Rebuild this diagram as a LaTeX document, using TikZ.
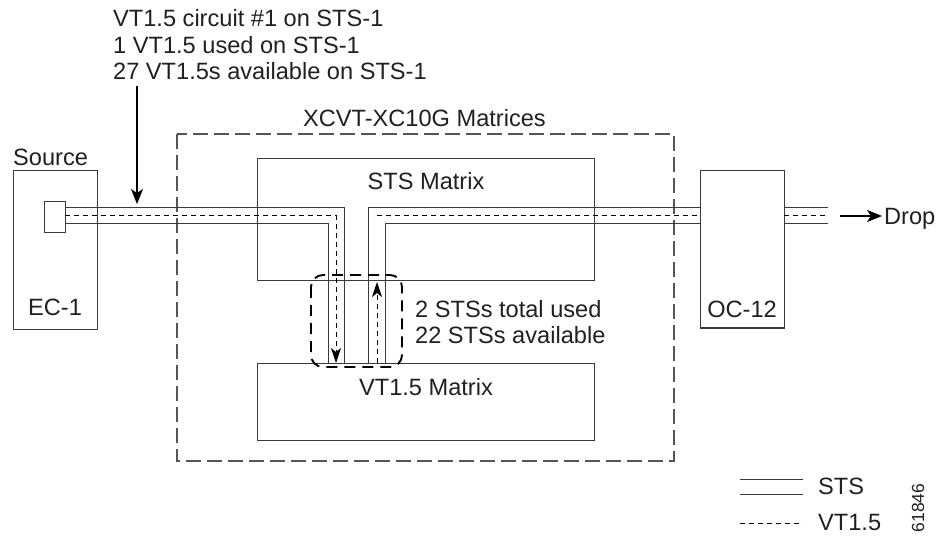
\documentclass[tikz,border=0pt]{standalone}
\usepackage{fontspec}
\setmainfont{Liberation Sans}
\usetikzlibrary{arrows.meta}
\definecolor{linec}{HTML}{3A3A3A}
\definecolor{txt}{HTML}{231F20}
\definecolor{xcgray}{HTML}{555555}
\begin{document}
\begin{tikzpicture}[x=1pt,y=-1pt,
  box/.style={draw=linec,line width=1pt,inner sep=0pt,outer sep=0pt},
  lbl/.style={inner sep=0pt,anchor=base west,font=\fontsize{23.6}{28}\selectfont,text=txt},
  clbl/.style={inner sep=0pt,anchor=base,font=\fontsize{23.6}{28}\selectfont,text=txt},
  sol/.style={draw=linec,line width=1pt},
  vtl/.style={draw=black,line width=1pt,dash pattern=on 5pt off 4pt},
  arr/.style={-{Stealth[length=15pt,width=12pt,inset=4pt]}},
  varr/.style={-{Stealth[length=15pt,width=10pt,inset=4pt]}},
  loopd/.style={draw=black,line width=1.9pt,dash pattern=on 11pt off 7pt,rounded corners=12pt},
  xcd/.style={draw=xcgray,line width=1.2pt,dash pattern=on 15pt off 6pt}]
\useasboundingbox (0,0) rectangle (937,537);
% boxes
\node[box,minimum width=84pt,minimum height=158pt] (ec1) at (55,250) {};
\node[box,minimum width=20.5pt,minimum height=31pt] (port) at (54.75,217.5) {};
\draw[xcd] (177,134) rectangle (674,461);
\node[box,minimum width=337pt,minimum height=122pt] (sts) at (425.5,220) {};
\node[box,minimum width=337pt,minimum height=77pt] (vt) at (425.5,401.5) {};
\node[box,minimum width=84pt,minimum height=157pt] (oc) at (742,249.5) {};
% coordinates of the channel
\coordinate (pA) at (65,208); \coordinate (pB) at (65,216); \coordinate (pC) at (65,224);
\coordinate (cA) at (344,208); \coordinate (cB) at (336,216); \coordinate (cC) at (328,224);
\coordinate (dA) at (344,363); \coordinate (dB) at (336,363); \coordinate (dC) at (328,363);
\coordinate (uA) at (368,363); \coordinate (uB) at (377,363); \coordinate (uC) at (385,363);
\coordinate (eA) at (368,208); \coordinate (eB) at (377,216); \coordinate (eC) at (385,224);
\coordinate (uT) at (377,282);
\coordinate (oA) at (700,208); \coordinate (oB) at (700,216); \coordinate (oC) at (700,224);
\coordinate (qA) at (784,208); \coordinate (qB) at (784,216); \coordinate (qC) at (784,224);
\coordinate (rA) at (828,208); \coordinate (rB) at (828,216); \coordinate (rC) at (828,224);
% channel: left part
\draw[sol] (pA) -- (cA) -- (dA);
\draw[sol] (pC) -- (cC) -- (dC);
\draw[vtl,varr] (pB) -- (cB) -- (dB);
% channel: right part
\draw[sol] (uA) -- (eA) -- (oA);
\draw[sol] (uC) -- (eC) -- (oC);
\draw[vtl] (eB) -- (oB);
\draw[vtl,varr] (uB) -- (uT);
% after OC-12
\draw[sol] (qA) -- (rA);
\draw[sol] (qC) -- (rC);
\draw[vtl] (qB) -- (rB);
% loop
\draw[loopd] (311,275) rectangle (402,367);
% labels
\node[lbl] (t1) at (113,27) {VT1.5 circuit \#1 on STS-1};
\node[lbl] (t2) at (113,53.5) {1 VT1.5 used on STS-1};
\node[lbl] (t3) at (113,80) {27 VT1.5s available on STS-1};
\coordinate (a1) at (137,86);
\coordinate (a2) at (137,204);
\draw[line width=1.3pt,black,arr] (a1) -- (a2);
\node[lbl] (xcl) at (303,127) {XCVT-XC10G Matrices};
\node[lbl] (src) at (13,166) {Source};
\node[clbl] (ecl) at (55,316) {EC-1};
\node[clbl] (ocl) at (742,317) {OC-12};
\node[clbl] (stsl) at (426,190) {STS Matrix};
\node[clbl] (vtlb) at (426,395) {VT1.5 Matrix};
\node[lbl] (u1) at (415,317) {2 STSs total used};
\node[lbl] (u2) at (415,343) {22 STSs available};
\node[lbl] (drop) at (884,225) {Drop};
\coordinate (d1) at (840,216);
\coordinate (d2) at (882,216);
\draw[line width=1.3pt,black,arr] (d1) -- (d2);
% legend
\coordinate (l1) at (740,479); \coordinate (l1e) at (803,479);
\coordinate (l2) at (740,494); \coordinate (l2e) at (803,494);
\coordinate (l3) at (740,523); \coordinate (l3e) at (803,523);
\draw[sol] (l1) -- (l1e);
\draw[sol] (l2) -- (l2e);
\draw[vtl] (l3) -- (l3e);
\node[lbl] (lsts) at (818,494) {STS};
\node[lbl] (lvt) at (818,530) {VT1.5};
\node[inner sep=0pt,rotate=90,font=\fontsize{17.5}{20}\selectfont,text=txt] (num) at (918,508) {61846};
\end{tikzpicture}
\end{document}
